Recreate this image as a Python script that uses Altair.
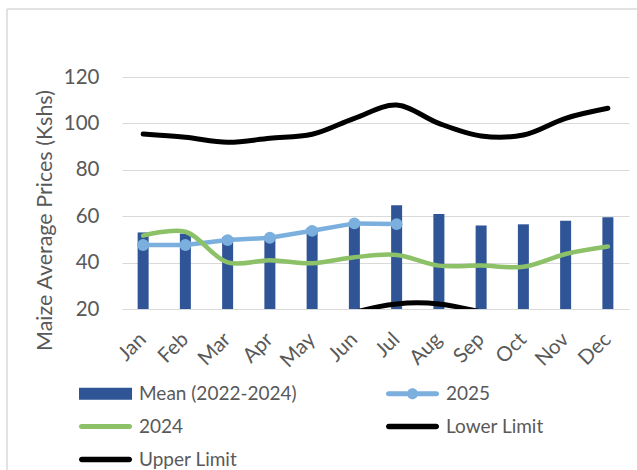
import altair as alt
import pandas as pd

months = ["Jan", "Feb", "Mar", "Apr", "May", "Jun", "Jul", "Aug", "Sep", "Oct", "Nov", "Dec"]
mean_2022_2024 = [53.0, 52.5, 51.0, 51.0, 55.0, 57.5, 64.7, 61.0, 56.0, 56.5, 58.0, 59.5]
prices_2025 = [47.6, 47.6, 49.7, 50.7, 53.7, 56.9, 56.6]
prices_2024 = [51.6, 53.3, 40.1, 41.0, 39.7, 42.3, 43.3, 38.7, 38.7, 38.2, 43.7, 46.9]
upper_limit = [95.4, 94.0, 91.9, 93.6, 95.3, 102.2, 107.9, 100.0, 94.6, 95.0, 102.2, 106.5]
lower_limit = [10.0, 10.0, 8.0, 8.0, 12.0, 18.5, 22.2, 22.2, 18.7, 14.0, 13.0, 13.0]
y_ticks = [20, 40, 60, 80, 100, 120]
series = ["Mean (2022-2024)", "2025", "2024", "Lower Limit", "Upper Limit"]

C_BAR = "#2F5597"
C_2025 = "#7BAFDE"
C_2024 = "#8CC168"
C_BLACK = "#000000"
TXT = "#595959"
GRID = "#D9D9D9"
FONT = "Lato"

df_mean = pd.DataFrame({"month": months, "value": mean_2022_2024})
df_2025 = pd.DataFrame({"month": months[:len(prices_2025)], "value": prices_2025})
df_2024 = pd.DataFrame({"month": months, "value": prices_2024})
df_up = pd.DataFrame({"month": months, "value": upper_limit})
df_lo = pd.DataFrame({"month": months, "value": lower_limit})

long_rows = []
for name, d in zip(series, [df_mean, df_2025, df_2024, df_lo, df_up]):
    for m, v in zip(d["month"], d["value"]):
        long_rows.append({"month": m, "value": v, "series": name})
df_long = pd.DataFrame(long_rows)

x_enc = alt.X("month:N", sort=months,
              scale=alt.Scale(paddingInner=0, paddingOuter=0),
              axis=alt.Axis(title=None, labelAngle=-45, labelAlign="right",
                            labelBaseline="middle", labelPadding=27, ticks=False,
                            domainColor=GRID, domainWidth=1, grid=False,
                            labelFont=FONT, labelFontSize=20.5, labelColor=TXT))
y_scale = alt.Scale(domain=[20, 120], nice=False, zero=False)
y_enc = alt.Y("value:Q", scale=y_scale,
              axis=alt.Axis(title="Maize Average Prices (Kshs)", values=y_ticks,
                            domain=False, ticks=False, grid=True, gridColor=GRID,
                            gridWidth=1, labelPadding=23, labelFont=FONT,
                            labelFontSize=20.5, labelColor=TXT, titleFont=FONT,
                            titleFontSize=21.5, titleFontWeight="normal",
                            titleColor=TXT, titlePadding=7, titleY=143))

bars = alt.Chart(df_mean).mark_bar(size=11, color=C_BAR).encode(
    x=x_enc, y=y_enc, y2=alt.Y2(datum=20))

line_2025 = alt.Chart(df_2025).mark_line(
    color=C_2025, strokeWidth=4.5,
    point=alt.OverlayMarkDef(filled=True, color=C_2025, size=140, opacity=1),
).encode(x=alt.X("month:N", sort=months), y=alt.Y("value:Q"))

line_2024 = alt.Chart(df_2024).mark_line(
    color=C_2024, strokeWidth=4.5, interpolate="catmull-rom", strokeCap="round"
).encode(x=alt.X("month:N", sort=months), y=alt.Y("value:Q"))

line_lo = alt.Chart(df_lo).mark_line(
    color=C_BLACK, strokeWidth=5, interpolate="catmull-rom", clip=True, strokeCap="round"
).encode(x=alt.X("month:N", sort=months), y=alt.Y("value:Q"))

line_up = alt.Chart(df_up).mark_line(
    color=C_BLACK, strokeWidth=5, interpolate="catmull-rom", strokeCap="round"
).encode(x=alt.X("month:N", sort=months), y=alt.Y("value:Q"))

# legend symbol shapes (custom paths)
P_BAR = "M-1,-0.71H5.24V0.71H-1Z"
P_GREEN = "M-0.71,-0.29H4.95A0.29,0.29 0 0 1 4.95,0.29H-0.71A0.29,0.29 0 0 1 -0.71,-0.29Z"
P_BLACK = "M-0.67,-0.33H4.91A0.33,0.33 0 0 1 4.91,0.33H-0.67A0.33,0.33 0 0 1 -0.67,-0.33Z"
P_2025 = (P_GREEN + " M1.47,0A0.65,0.65 0 1 1 2.77,0A0.65,0.65 0 1 1 1.47,0Z")

legend = alt.Legend(title=None, orient="none", legendX=-44, legendY=307,
                    direction="horizontal",
                    columns=2, columnPadding=88, rowPadding=13,
                    symbolSize=289, symbolStrokeWidth=0, labelOffset=42,
                    labelFont=FONT, labelFontSize=19, labelColor=TXT,
                    labelLimit=400)

legend_layer = alt.Chart(df_long).transform_filter("false").mark_point(
    filled=True, opacity=1
).encode(
    x=alt.X("month:N", sort=months),
    y=alt.Y("value:Q"),
    color=alt.Color("series:N", sort=series,
                    scale=alt.Scale(domain=series,
                                    range=[C_BAR, C_2025, C_2024, C_BLACK, C_BLACK]),
                    legend=legend),
    shape=alt.Shape("series:N", sort=series,
                    scale=alt.Scale(domain=series,
                                    range=[P_BAR, P_2025, P_GREEN, P_BLACK, P_BLACK]),
                    legend=legend),
)

frame_df = pd.DataFrame({"k": [0]})
frame_left = alt.Chart(frame_df).mark_rule(color=GRID, strokeWidth=1.5).encode(
    x=alt.value(-115), y=alt.value(-68), y2=alt.value(400))
frame_top = alt.Chart(frame_df).mark_rule(color=GRID, strokeWidth=1.5).encode(
    x=alt.value(-115), x2=alt.value(520), y=alt.value(-68))

chart = alt.layer(
    frame_left, frame_top, bars, line_2025, line_2024, line_lo, line_up, legend_layer
).properties(
    width=507, height=232,
    autosize=alt.AutoSizeParams(type="none"),
    padding={"left": 122, "top": 77, "right": 8, "bottom": 161},
    background="white",
).configure_view(stroke=None)

chart.save("out.html", embed_options={"renderer": "svg", "actions": False})
